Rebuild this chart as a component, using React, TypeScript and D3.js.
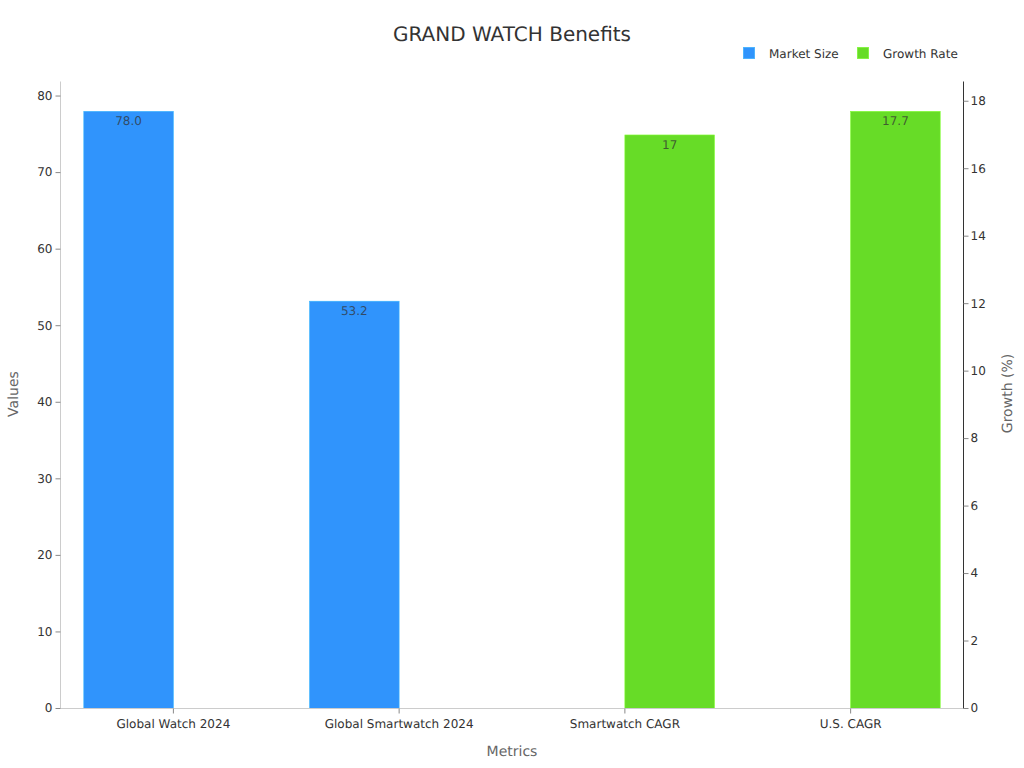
import { useEffect, useRef } from "react";
import * as d3 from "d3";

const categories = [
  "Global Watch 2024",
  "Global Smartwatch 2024",
  "Smartwatch CAGR",
  "U.S. CAGR",
];
const seriesNames = ["Market Size", "Growth Rate"];
const seriesColors = ["#3094fc", "#67dc27"];
const marketSize = [78.0, 53.2, null, null];
const growthRate = [null, null, 17, 17.7];
const marketLabels = ["78.0", "53.2", null, null];
const growthLabels = [null, null, "17", "17.7"];
const leftTicks = [0, 10, 20, 30, 40, 50, 60, 70, 80];
const rightTicks = [0, 2, 4, 6, 8, 10, 12, 14, 16, 18];

const width = 1024;
const height = 768;
const margin = { top: 81.5, right: 60.5, bottom: 59.5, left: 60.5 };
const font = "'DejaVu Sans', sans-serif";

export default function App() {
  const svgRef = useRef<SVGSVGElement | null>(null);

  useEffect(() => {
    if (!svgRef.current) return;
    const svg = d3.select(svgRef.current);
    svg.selectAll("*").remove();

    const bottom = height - margin.bottom;
    const right = width - margin.right;

    const x = d3.scaleBand<string>().domain(categories).range([margin.left, right]);
    const xInner = d3
      .scaleBand<string>()
      .domain(seriesNames)
      .range([0, x.bandwidth()])
      .paddingOuter(0.26);
    const yLeft = d3.scaleLinear().domain([0, 81.9]).range([bottom, margin.top]);
    const yRight = d3.scaleLinear().domain([0, 18.585]).range([bottom, margin.top]);

    // bars, the left axis scale goes with market size and the right one with growth
    const drawSeries = (
      values: (number | null)[],
      labels: (string | null)[],
      name: string,
      color: string,
      y: d3.ScaleLinear<number, number>,
    ) => {
      categories.forEach((cat, i) => {
        const v = values[i];
        if (v === null) return;
        const bx = x(cat)! + xInner(name)!;
        svg
          .append("rect")
          .attr("x", bx)
          .attr("y", y(v))
          .attr("width", xInner.bandwidth())
          .attr("height", bottom - y(v))
          .attr("fill", color)
          .attr("stroke", d3.color(color)!.brighter(0.6).formatHex())
          .attr("stroke-width", 0.6);
        svg
          .append("text")
          .attr("x", bx + xInner.bandwidth() / 2)
          .attr("y", y(v) + 14)
          .attr("text-anchor", "middle")
          .attr("font-size", 12)
          .attr("fill", "#333")
          .attr("fill-opacity", 0.75)
          .text(labels[i]!);
      });
    };
    drawSeries(marketSize, marketLabels, seriesNames[0], seriesColors[0], yLeft);
    drawSeries(growthRate, growthLabels, seriesNames[1], seriesColors[1], yRight);

    // axes
    const styleAxis = (g: d3.Selection<SVGGElement, unknown, null, undefined>, line: string) => {
      g.attr("font-family", font).attr("font-size", 12);
      g.select(".domain").attr("stroke", line);
      g.selectAll(".tick line").attr("stroke", "#888");
      g.selectAll(".tick text").attr("fill", "#333");
    };

    const gx = svg
      .append("g")
      .attr("transform", `translate(0,${bottom})`)
      .call(d3.axisBottom(x).tickSize(5).tickSizeOuter(0).tickPadding(6).offset(0));
    styleAxis(gx, "#ccc");

    const gl = svg
      .append("g")
      .attr("transform", `translate(${margin.left},0)`)
      .call(
        d3.axisLeft(yLeft).tickValues(leftTicks).tickSize(5).tickSizeOuter(0).tickPadding(3).offset(0),
      );
    styleAxis(gl, "#ccc");

    const gr = svg
      .append("g")
      .attr("transform", `translate(${right},0)`)
      .call(
        d3.axisRight(yRight).tickValues(rightTicks).tickSize(5).tickSizeOuter(0).tickPadding(2).offset(0),
      );
    styleAxis(gr, "#333");

    // title and axis names
    svg
      .append("text")
      .attr("x", width / 2)
      .attr("y", 40.5)
      .attr("text-anchor", "middle")
      .attr("font-size", 20)
      .attr("fill", "#333")
      .text("GRAND WATCH Benefits");
    svg
      .append("text")
      .attr("x", (margin.left + right) / 2)
      .attr("y", 756)
      .attr("text-anchor", "middle")
      .attr("font-size", 14)
      .attr("fill", "#666")
      .text("Metrics");
    svg
      .append("text")
      .attr("transform", `translate(18,${(margin.top + bottom) / 2 - 1}) rotate(-90)`)
      .attr("text-anchor", "middle")
      .attr("font-size", 14)
      .attr("fill", "#666")
      .text("Values");
    svg
      .append("text")
      .attr("transform", `translate(1012,${(margin.top + bottom) / 2 - 1.5}) rotate(-90)`)
      .attr("text-anchor", "middle")
      .attr("font-size", 14)
      .attr("fill", "#666")
      .text("Growth (%)");

    // legend
    const legendX = [743, 857];
    seriesNames.forEach((name, i) => {
      svg
        .append("rect")
        .attr("x", legendX[i] + 0.25)
        .attr("y", 47.25)
        .attr("width", 11.5)
        .attr("height", 11.5)
        .attr("fill", seriesColors[i])
        .attr("stroke", d3.color(seriesColors[i])!.brighter(0.6).formatHex())
        .attr("stroke-width", 0.5);
      svg
        .append("text")
        .attr("x", legendX[i] + 26)
        .attr("y", 58)
        .attr("font-size", 12)
        .attr("fill", "#333")
        .text(name);
    });
  }, []);

  return (
    <svg
      ref={svgRef}
      width={width}
      height={height}
      fontFamily={font}
      textRendering="geometricPrecision"
      style={{ position: "absolute", left: 0, top: 0, background: "#fff", opacity: 0.999 }}
    />
  );
}
